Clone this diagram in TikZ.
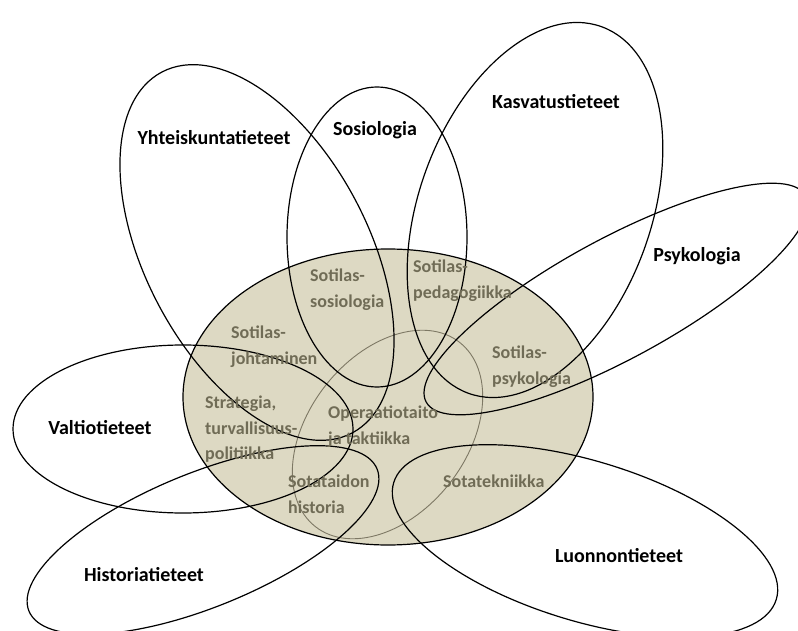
\documentclass[tikz,border=0pt]{standalone}
\usepackage{fontspec}
\setmainfont{Carlito}
\usetikzlibrary{positioning}
\definecolor{tanfill}{HTML}{DDD9C3}
\definecolor{olivetext}{RGB}{112,108,86}
\definecolor{coreline}{RGB}{125,120,100}

\begin{document}
\begin{tikzpicture}[x=1pt,y=1pt,
    field/.style={draw=black,line width=1.2pt},
    science/.style={font=\bfseries\fontsize{20}{24}\selectfont,text=black,anchor=base},
    branch/.style={font=\bfseries\fontsize{18}{25.5}\selectfont,text=olivetext,
      align=left,anchor=north west,inner sep=0pt}]
  \useasboundingbox (0,0) rectangle (798,-631);

  \fill[tanfill,field] (388,-397) ellipse (205 and 148);
  \draw[coreline,line width=0.9pt,rotate around={52:(387.5,-434.5)}] (387.5,-434.5) ellipse (117 and 79);

  \draw[field,rotate around={-62.2:(257,-252.5)}] (257,-252.5) ellipse (204 and 111.5);
  \draw[field] (377,-237) ellipse (90 and 150);
  \draw[field,rotate around={70:(535,-210)}] (535,-210) ellipse (195 and 116);
  \draw[field,rotate around={28.5:(616,-299)}] (616,-299) ellipse (216 and 60);
  \draw[field] (183,-429) ellipse (170 and 84);
  \draw[field,rotate around={22.2:(203,-540)}] (203,-540) ellipse (188 and 67);
  \draw[field,rotate around={-17:(585,-541)}] (585,-541) ellipse (200 and 80);

  \node[science] (yhteis) at (214,-144.5) {Yhteiskuntatieteet};
  \node[science] (sosio) at (375,-135.5) {Sosiologia};
  \node[science] (kasva) at (556,-108.5) {Kasvatustieteet};
  \node[science] (psyko) at (697,-261.5) {Psykologia};
  \node[science] (valtio) at (100,-434.5) {Valtiotieteet};
  \node[science] (histo) at (144,-581.5) {Historiatieteet};
  \node[science] (luonno) at (619,-562.5) {Luonnontieteet};

  \node[branch] (sotsos) at (310,-269) {Sotilas-\\sosiologia};
  \node[branch] (sotped) at (413,-260) {Sotilas-\\pedagogiikka};
  \node[branch] (sotjoh) at (231,-326) {Sotilas-\\johtaminen};
  \node[branch] (strat) at (205,-396) {Strategia,\\turvallisuus-\\politiikka};
  \node[branch] (optak) at (328,-406) {Operaatiotaito\\ja taktiikka};
  \node[branch] (sothis) at (288,-475) {Sotataidon\\historia};
  \node[branch] (sotpsy) at (492,-346) {Sotilas-\\psykologia};
  \node[branch] (sottek) at (443,-475) {Sotatekniikka};
\end{tikzpicture}
\end{document}
